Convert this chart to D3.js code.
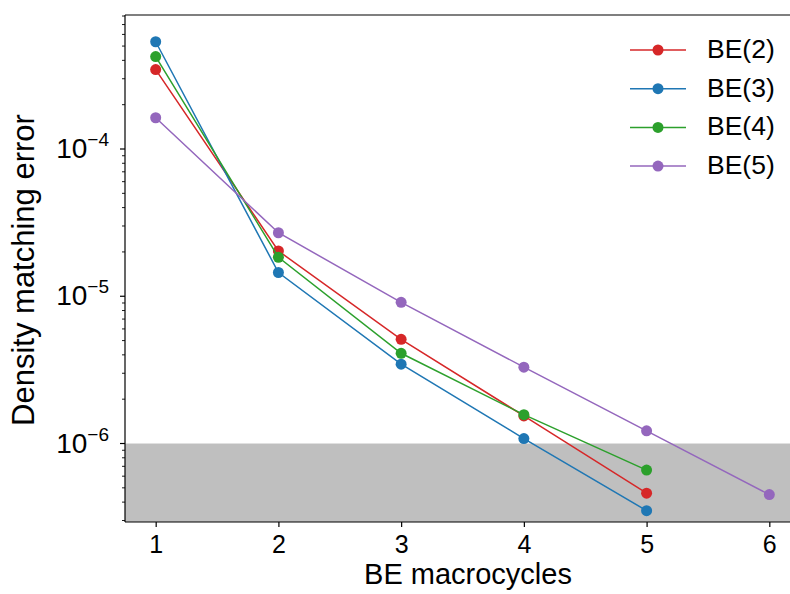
<!DOCTYPE html>
<html lang="en">
<head>
    <meta charset="UTF-8">
    <title>Density matching error</title>
    <script src="https://d3js.org/d3.v7.min.js"></script>
    <style>
        body { margin: 0; background: #fff; font-family: "Liberation Sans", Arial, sans-serif; }
        svg { display: block; }
    </style>
</head>
<body>
    <svg width="790" height="594"></svg>

    <script>
        // data
        const seriesNames = ["BE(2)", "BE(3)", "BE(4)", "BE(5)"];
        const seriesColors = ["#d62728", "#1f77b4", "#2ca02c", "#9467bd"];
        const macrocycles = [1, 2, 3, 4, 5, 6];
        const be2 = [3.46e-4, 2.03e-5, 5.1e-6, 1.54e-6, 4.6e-7];
        const be3 = [5.35e-4, 1.45e-5, 3.46e-6, 1.08e-6, 3.5e-7];
        const be4 = [4.24e-4, 1.84e-5, 4.1e-6, 1.57e-6, 6.6e-7];
        const be5 = [1.63e-4, 2.70e-5, 9.1e-6, 3.3e-6, 1.22e-6, 4.5e-7];
        const xTicks = [1, 2, 3, 4, 5, 6];
        const yMajor = [-6, -5, -4];
        const threshold = 1e-6;

        const allSeries = [be2, be3, be4, be5];

        const svg = d3.select("svg");
        const margin = { left: 125, top: 15, bottom: 522 };
        const plotRight = 800;

        const x = d3.scaleLinear().domain([0.75, 6.25]).range([margin.left, plotRight]);
        const y = d3.scaleLog().domain([10 ** -6.533, 10 ** -3.09]).range([margin.bottom, margin.top]);

        const plot = svg.append("g");

        // shaded area below threshold
        plot.append("rect")
            .attr("x", x(0.75))
            .attr("y", y(threshold))
            .attr("width", x(6.25) - x(0.75))
            .attr("height", y.range()[0] - y(threshold))
            .attr("fill", "#bfbfbf");

        // series
        const line = d3.line()
            .x((d, i) => x(macrocycles[i]))
            .y(d => y(d));

        allSeries.forEach((vals, k) => {
            const g = plot.append("g");
            g.append("path")
                .attr("d", line(vals))
                .attr("fill", "none")
                .attr("stroke", seriesColors[k])
                .attr("stroke-width", 1.5);
            g.selectAll("circle")
                .data(vals)
                .join("circle")
                .attr("cx", (d, i) => x(macrocycles[i]))
                .attr("cy", d => y(d))
                .attr("r", 5.5)
                .attr("fill", seriesColors[k]);
        });

        // spines
        svg.append("line")
            .attr("x1", margin.left).attr("x2", margin.left)
            .attr("y1", margin.top).attr("y2", margin.bottom)
            .attr("stroke", "#000").attr("stroke-width", 1.2);
        svg.append("line")
            .attr("x1", margin.left).attr("x2", plotRight)
            .attr("y1", margin.bottom).attr("y2", margin.bottom)
            .attr("stroke", "#000").attr("stroke-width", 1.2);
        svg.append("line")
            .attr("x1", margin.left).attr("x2", plotRight)
            .attr("y1", margin.top).attr("y2", margin.top)
            .attr("stroke", "#000").attr("stroke-width", 1.2);

        // x axis
        const xAxis = svg.append("g")
            .attr("transform", `translate(0,${margin.bottom})`)
            .call(d3.axisBottom(x).tickValues(xTicks).tickFormat(d3.format("d")).tickSize(5).tickPadding(8));
        xAxis.select(".domain").remove();
        xAxis.selectAll("line").attr("stroke-width", 1.2);
        xAxis.selectAll("text").attr("font-size", 25).attr("fill", "#000")
            .attr("font-family", "Liberation Sans, Arial, sans-serif");

        // y axis: minor ticks
        const yMin = y.domain()[0], yMax = y.domain()[1];
        const minorVals = [];
        for (let e = -7; e <= -3; e++) {
            for (let m = 2; m <= 9; m++) {
                const v = m * 10 ** e;
                if (v >= yMin && v <= yMax) minorVals.push(v);
            }
        }
        svg.append("g").selectAll("line")
            .data(minorVals)
            .join("line")
            .attr("x1", margin.left - 3).attr("x2", margin.left)
            .attr("y1", d => y(d)).attr("y2", d => y(d))
            .attr("stroke", "#000").attr("stroke-width", 0.9);

        const majors = svg.append("g").selectAll("g")
            .data(yMajor)
            .join("g")
            .attr("transform", d => `translate(0,${y(10 ** d)})`);
        majors.append("line")
            .attr("x1", margin.left - 5).attr("x2", margin.left)
            .attr("stroke", "#000").attr("stroke-width", 1.2);
        const lab = majors.append("text")
            .attr("x", margin.left - 16)
            .attr("y", 9)
            .attr("text-anchor", "end")
            .attr("font-size", 28)
            .attr("fill", "#000");
        lab.append("tspan").text("10");
        lab.append("tspan")
            .attr("dy", -12)
            .attr("font-size", 19)
            .text(d => "\u2212" + Math.abs(d));

        // axis labels
        svg.append("text")
            .attr("x", 468).attr("y", 584)
            .attr("text-anchor", "middle")
            .attr("font-size", 29)
            .text("BE macrocycles");
        svg.append("text")
            .attr("transform", `translate(34,270) rotate(-90)`)
            .attr("text-anchor", "middle")
            .attr("font-size", 31)
            .text("Density matching error");

        // legend
        const legend = svg.append("g").attr("transform", "translate(630,50)");
        const rows = legend.selectAll("g")
            .data(seriesNames)
            .join("g")
            .attr("transform", (d, i) => `translate(0,${i * 38.7})`);
        rows.append("line")
            .attr("x1", 0).attr("x2", 56)
            .attr("stroke", (d, i) => seriesColors[i])
            .attr("stroke-width", 1.5);
        rows.append("circle")
            .attr("cx", 28).attr("r", 5.5)
            .attr("fill", (d, i) => seriesColors[i]);
        rows.append("text")
            .attr("x", 77).attr("y", 8)
            .attr("font-size", 26.5)
            .text(d => d);
    </script>
</body>
</html>
